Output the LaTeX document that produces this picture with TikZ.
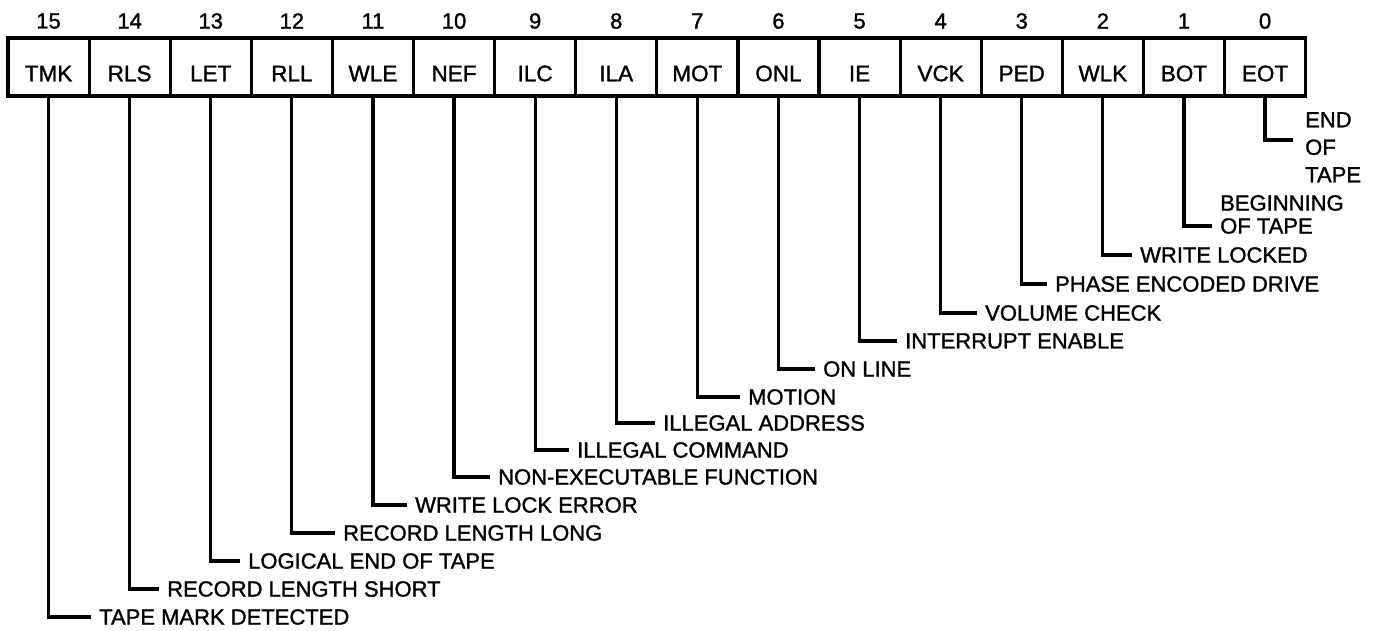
\documentclass[tikz,border=0pt]{standalone}
\usepackage{fontspec}
\setmainfont{Liberation Sans}[FakeBold=1.3]
\begin{document}
\begin{tikzpicture}[x=1pt,y=-1pt,
  cell/.style={draw, line width=3.2pt, minimum width=81.1pt, minimum height=58pt,
    inner sep=0pt, text height=28.5pt, text depth=0pt, font=\fontsize{22.5}{26}\selectfont},
  bitnum/.style={font=\fontsize{22}{26}\selectfont, inner sep=0pt},
  lbl/.style={anchor=west, inner sep=0pt, font=\fontsize{22}{26}\selectfont},
  conn/.style={line width=3.2pt, shorten >=8pt}]
\useasboundingbox (0,0) rectangle (1376,630);
\foreach \b/\nm/\ty/\tx/\txt in {
  15/TMK/617/99/TAPE MARK DETECTED,
  14/RLS/589/167/RECORD LENGTH SHORT,
  13/LET/561/248/LOGICAL END OF TAPE,
  12/RLL/533/343/RECORD LENGTH LONG,
  11/WLE/505/415/WRITE LOCK ERROR,
  10/NEF/477/498/NON-EXECUTABLE FUNCTION,
  9/ILC/450/577/ILLEGAL COMMAND,
  8/ILA/423/663/ILLEGAL ADDRESS,
  7/MOT/397/748/MOTION,
  6/ONL/369/823/ON LINE,
  5/IE/341/905/INTERRUPT ENABLE,
  4/VCK/313/985/VOLUME CHECK,
  3/PED/284/1055/PHASE ENCODED DRIVE,
  2/WLK/255/1140/WRITE LOCKED}{
  \pgfmathsetmacro\cx{48.55+81.1*(15-\b)}
  \node[cell] (c\b) at (\cx,67) {\nm};
  \node[bitnum] (n\b) at (\cx,21) {\b};
  \node[lbl] (l\b) at (\tx,\ty) {\txt};
  \draw[conn] (c\b.south) |- (l\b.west);
}
% bit 1
\node[cell] (c1) at ({48.55+81.1*14},67) {BOT};
\node[bitnum] (n1) at ({48.55+81.1*14},21) {1};
\node[anchor=north west, inner sep=0pt, align=left, font=\fontsize{22}{23}\selectfont] (l1) at (1220,195) {BEGINNING\\OF TAPE};
\draw[conn] (c1.south) |- ([yshift=8pt]l1.south west);
% bit 0
\node[cell] (c0) at ({48.55+81.1*15},67) {EOT};
\node[bitnum] (n0) at ({48.55+81.1*15},21) {0};
\node[anchor=north west, inner sep=0pt, align=left, font=\fontsize{22}{27.5}\selectfont] (l0) at (1305,112) {END\\OF\\TAPE};
\draw[conn, shorten >=12pt] (c0.south) |- ([yshift=-28pt]l0.north west);
\end{tikzpicture}
\end{document}
